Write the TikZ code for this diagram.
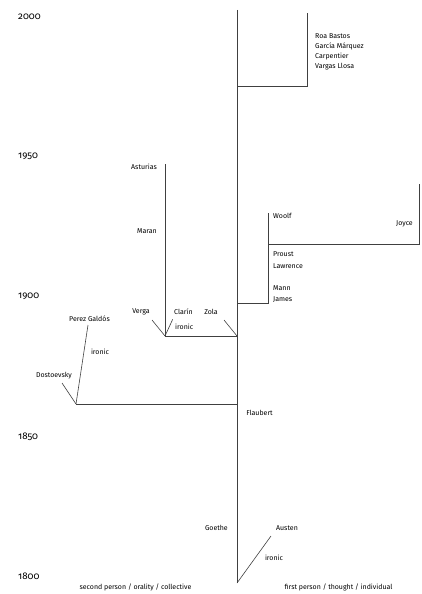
\documentclass[tikz,border=0pt]{standalone}
\usepackage{fontspec}
\setmainfont{Fira Sans}[Numbers=OldStyle]
\begin{document}
\begin{tikzpicture}[x=1pt,y=-1pt,
  ln/.style={draw=black!75,line width=0.6pt},
  nm/.style={font=\fontsize{7}{10}\selectfont,text=black,inner sep=0pt},
  yr/.style={font=\fontsize{9.7}{11}\selectfont,text=black,inner sep=0pt,anchor=west}]
\useasboundingbox (0,0) rectangle (422,594);
% years
\node[yr] (y2000) at (18,16.7) {2000};
\node[yr] (y1950) at (18,156.7) {1950};
\node[yr] (y1900) at (18,296.7) {1900};
\node[yr] (y1850) at (18,436.7) {1850};
\node[yr] (y1800) at (18,576.7) {1800};
% coordinates
\coordinate (ttop) at (237,10);
\coordinate (tbot) at (237,583);
\coordinate (ra) at (237,86);
\coordinate (rb) at (307,86);
\coordinate (rc) at (307,13);
\coordinate (wa) at (237,303);
\coordinate (wb) at (268,303);
\coordinate (wc) at (268,213);
\coordinate (wd) at (268,244);
\coordinate (we) at (419,244);
\coordinate (wf) at (419,184);
\coordinate (za) at (237,336);
\coordinate (va) at (165,336);
\coordinate (vt) at (165,164);
\coordinate (da) at (237,404);
\coordinate (db) at (76,404);
\coordinate (zt) at (224,320);
\coordinate (vgt) at (152,320);
\coordinate (ct) at (172.7,319.3);
\coordinate (dt) at (62,383);
\coordinate (gt) at (88,325);
\coordinate (at) at (271,536);
% lines
\draw[ln] (ttop) -- (tbot);
\draw[ln] (ra) -- (rb) -- (rc);
\draw[ln] (wa) -- (wb) -- (wc);
\draw[ln] (wd) -- (we) -- (wf);
\draw[ln] (za) -- (va) -- (vt);
\draw[ln] (da) -- (db);
\draw[ln] (zt) -- (za);
\draw[ln] (vgt) -- (va);
\draw[ln] (ct) -- (va);
\draw[ln] (dt) -- (db);
\draw[ln] (gt) -- (db);
\draw[ln] (at) -- (tbot);
% names
\node[nm,anchor=west,align=left] (latam) at (315,52) {Roa Bastos\\García Márquez\\Carpentier\\Vargas Llosa};
\node[nm,anchor=east] (asturias) at (157,167) {Asturias};
\node[nm,anchor=east] (maran) at (157,231) {Maran};
\node[nm] (verga) at (141,312) {Verga};
\node[nm,anchor=west] (clarin) at (174,312) {Clarín};
\node[nm,anchor=west] (ironic1) at (175,327) {ironic};
\node[nm] (zola) at (211,312) {Zola};
\node[nm] (galdos) at (89.5,318.7) {Perez Galdós};
\node[nm] (ironic2) at (100,352) {ironic};
\node[nm] (dost) at (54,376) {Dostoevsky};
\node[nm] (flaubert) at (259.5,413) {Flaubert};
\node[nm,anchor=west] (woolf) at (273,216) {Woolf};
\node[nm,anchor=east] (joyce) at (413,224) {Joyce};
\node[nm,anchor=west] (proust) at (273,254) {Proust};
\node[nm,anchor=west] (lawrence) at (273,265.7) {Lawrence};
\node[nm,anchor=west] (mann) at (273,288) {Mann};
\node[nm,anchor=west] (james) at (273,299.3) {James};
\node[nm,anchor=east] (goethe) at (228,527.7) {Goethe};
\node[nm] (austen) at (287,527.7) {Austen};
\node[nm] (ironic3) at (274,557.7) {ironic};
\node[nm] (first) at (338.5,587.3) {first person / thought / individual};
\node[nm] (second) at (135.5,587.7) {second person / orality / collective};
\end{tikzpicture}
\end{document}
